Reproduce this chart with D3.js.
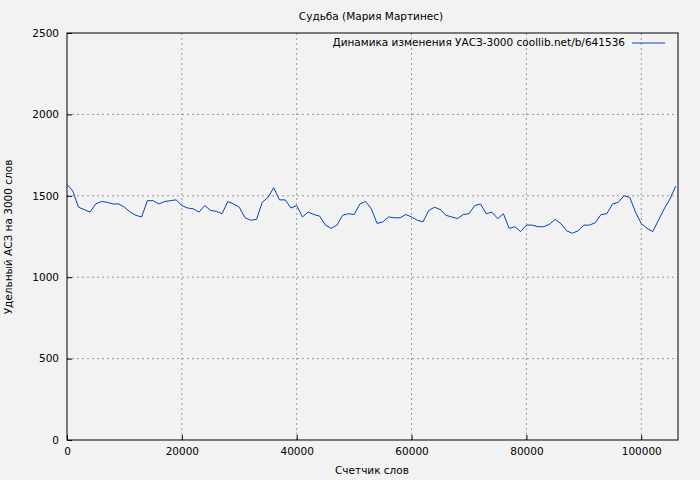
<!DOCTYPE html>
<html><head><meta charset="utf-8">
<script src="https://cdn.jsdelivr.net/npm/d3@7"></script>
<style>body{margin:0;background:#f2f2f2}text{font-family:"DejaVu Sans",sans-serif;font-size:10.5px}</style>
</head><body><div id="chart"></div>
<script>
const words = [0,1000,2000,3000,4000,5000,6000,7000,8000,9000,10000,11000,12000,13000,14000,15000,16000,17000,18000,19000,
20000,21000,22000,23000,24000,25000,26000,27000,28000,29000,30000,31000,32000,33000,34000,35000,36000,37000,38000,39000,
40000,41000,42000,43000,44000,45000,46000,47000,48000,49000,50000,51000,52000,53000,54000,55000,56000,57000,58000,59000,
60000,61000,62000,63000,64000,65000,66000,67000,68000,69000,70000,71000,72000,73000,74000,75000,76000,77000,78000,79000,
80000,81000,82000,83000,84000,85000,86000,87000,88000,89000,90000,91000,92000,93000,94000,95000,96000,97000,98000,99000,
100000,101000,102000,103000,104000,105000,106000]
const values = [1570,1530,1430,1415,1400,1450,1465,1460,1450,1450,1430,1400,1380,1370,1470,1470,1450,1465,1470,1475,
1440,1425,1420,1400,1440,1410,1405,1390,1465,1450,1430,1365,1350,1355,1460,1490,1550,1475,1475,1425,
1440,1370,1400,1385,1375,1320,1300,1320,1380,1390,1385,1450,1465,1420,1330,1340,1370,1365,1365,1385,
1370,1350,1340,1410,1430,1415,1380,1370,1360,1385,1390,1440,1450,1390,1400,1360,1390,1300,1310,1280,
1320,1320,1310,1310,1325,1355,1330,1285,1270,1285,1320,1320,1335,1385,1390,1450,1460,1500,1490,1400,
1330,1300,1280,1350,1420,1480,1560]
const xTicks = [0,20000,40000,60000,80000,100000]
const yTicks = [0,500,1000,1500,2000,2500]

const width = 700, height = 480
const margin = {top: 33, bottom: 40, left: 67, right: 22}
const svg = d3.select("#chart").append("svg").attr("width", width).attr("height", height)
const x = d3.scaleLinear().domain([0, 106400]).range([margin.left, width - margin.right])
const y = d3.scaleLinear().domain([0, 2500]).range([height - margin.bottom, margin.top])

const grid = svg.append("g").attr("stroke", "#999").attr("stroke-dasharray", "2,3").attr("stroke-width", 1)
xTicks.slice(1).forEach(t => grid.append("line").attr("x1", x(t)).attr("x2", x(t)).attr("y1", y(0)).attr("y2", y(2500)))
yTicks.slice(1, -1).forEach(t => grid.append("line").attr("x1", x.range()[0]).attr("x2", x.range()[1]).attr("y1", y(t)).attr("y2", y(t)))

svg.append("g").attr("transform", `translate(0,${y(0)})`)
    .call(d3.axisBottom(x).tickValues(xTicks).tickSizeInner(-5).tickSizeOuter(0).tickPadding(8).tickFormat(d3.format("d")))
    .call(g => g.select(".domain").remove())
svg.append("g").attr("transform", `translate(${x.range()[0]},0)`)
    .call(d3.axisLeft(y).tickValues(yTicks).tickSizeInner(-5).tickSizeOuter(0).tickPadding(8).tickFormat(d3.format("d")))
    .call(g => g.select(".domain").remove())
svg.selectAll(".tick text").attr("fill", "#000").style("font-size", "10.5px")

svg.append("rect").attr("x", margin.left).attr("y", margin.top)
    .attr("width", width - margin.left - margin.right).attr("height", height - margin.top - margin.bottom)
    .attr("fill", "none").attr("stroke", "#000").attr("stroke-width", 1)

const line = d3.line().x((d, i) => x(words[i])).y(d => y(d))
svg.append("path").datum(values).attr("d", line).attr("fill", "none").attr("stroke", "#0044bb").attr("stroke-width", 1)

svg.append("text").attr("x", 371).attr("y", 20).attr("text-anchor", "middle").text("Судьба (Мария Мартинес)")
svg.append("text").attr("x", 625).attr("y", 46).attr("text-anchor", "end").text("Динамика изменения УАСЗ-3000 coollib.net/b/641536")
svg.append("line").attr("x1", 632).attr("x2", 665).attr("y1", 43).attr("y2", 43).attr("stroke", "#0044bb")
svg.append("text").attr("x", 372).attr("y", 474).attr("text-anchor", "middle").text("Счетчик слов")
svg.append("text").attr("transform", "translate(12,237) rotate(-90)").attr("text-anchor", "middle").text("Удельный АСЗ на 3000 слов")
</script></body></html>
